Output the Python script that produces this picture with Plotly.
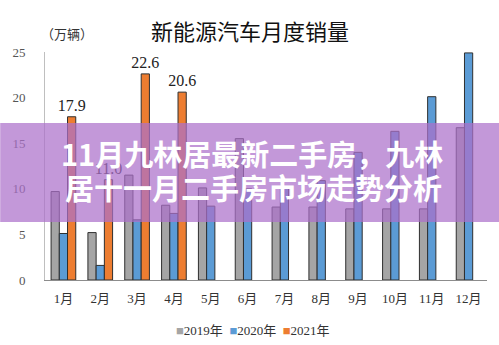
import plotly.graph_objects as go

# Monthly sales of new-energy vehicles (unit: 10k vehicles)
months = ["1月", "2月", "3月", "4月", "5月", "6月", "7月", "8月", "9月", "10月", "11月", "12月"]
y_ticks = [0, 5, 10, 15, 20, 25]
series_names = ["2019年", "2020年", "2021年"]
sales_2019 = [9.7, 5.2, 11.5, 8.2, 10.1, 15.5, 8.0, 8.0, 7.8, 7.8, 7.8, 16.7]
sales_2020 = [5.1, 1.6, 6.6, 7.3, 8.1, 10.0, 10.2, 10.9, 14.0, 16.3, 20.1, 24.9]
sales_2021 = [17.9, 11.0, 22.6, 20.6]

colors = ["#A5A5A5", "#5B9BD5", "#ED7D31"]
outline = "#2F2F2F"

W, H = 499, 345
ML, MR, MT, MB = 43, 12, 52, 65
plot_w = W - ML - MR
plot_h = H - MT - MB


def px_x(px):
    return (px - ML) / plot_w


def px_y(py):
    return (H - MB - py) / plot_h


fig = go.Figure()
for name, vals, col in zip(series_names, [sales_2019, sales_2020, sales_2021], colors):
    labelled = name == "2021年"
    fig.add_trace(go.Bar(
        name=name,
        x=months[:len(vals)],
        y=vals,
        marker=dict(color=col, line=dict(color=outline, width=1)),
        text=[f"{v:.1f}" for v in vals] if labelled else None,
        textposition="outside" if labelled else None,
        constraintext="none",
        textfont=dict(family="Liberation Serif, Noto Sans CJK SC", size=16, color="#222222"),
        cliponaxis=False,
        showlegend=False,
    ))

legend_text = "  ".join(
    f"<span style='color:{c}'>■</span>{n}" for n, c in zip(series_names, colors)
)

annotations = [
    # unit label
    dict(text="（万辆）", xref="paper", yref="paper", x=px_x(65), y=px_y(33),
         showarrow=False, xanchor="center", yanchor="middle",
         font=dict(family="Noto Sans CJK SC", size=13, color="#333333")),
    # legend
    dict(text=legend_text, xref="paper", yref="paper", x=px_x(252), y=px_y(330),
         showarrow=False, xanchor="center", yanchor="middle",
         font=dict(family="Liberation Serif, Noto Sans CJK SC", size=13, color="#333333")),
    # headline over the banner
    dict(text="<b>11月九林居最新二手房，九林</b>", xref="paper", yref="paper",
         x=px_x(251), y=px_y(153), showarrow=False, xanchor="center", yanchor="middle",
         font=dict(family="Noto Sans CJK SC", size=29, color="white")),
    dict(text="<b>居十一月二手房市场走势分析</b>", xref="paper", yref="paper",
         x=px_x(252), y=px_y(187), showarrow=False, xanchor="center", yanchor="middle",
         font=dict(family="Noto Sans CJK SC", size=29, color="white")),
]

shapes = [
    dict(type="rect", xref="paper", yref="paper", layer="above",
         x0=px_x(-2), x1=px_x(W + 2), y0=px_y(222), y1=px_y(123),
         fillcolor="rgba(172,112,202,0.72)", line=dict(width=0)),
]

fig.update_layout(
    width=W, height=H,
    margin=dict(l=ML, r=MR, t=MT, b=MB),
    paper_bgcolor="white", plot_bgcolor="white",
    barmode="group", bargap=0.33, bargroupgap=0,
    title=dict(text="新能源汽车月度销量", xref="container", yref="container",
               x=250 / W, y=1 - 32 / H, xanchor="center", yanchor="middle",
               font=dict(family="Noto Sans CJK SC", size=22, color="#111111")),
    annotations=annotations,
    shapes=shapes,
    xaxis=dict(
        categoryorder="array", categoryarray=months,
        showgrid=False, showline=True, linecolor="#8C8C8C", linewidth=1,
        ticks="", ticklabelstandoff=6,
        tickfont=dict(family="Liberation Serif, Noto Sans CJK SC", size=13, color="#333333"),
    ),
    yaxis=dict(
        range=[0, 25], tickvals=y_ticks, showgrid=False, zeroline=False,
        showline=True, linecolor="#BFBFBF", linewidth=1,
        ticks="", ticklabelstandoff=16,
        tickfont=dict(family="Liberation Serif", size=13, color="#555555"),
    ),
)

fig.write_html("out.html")
